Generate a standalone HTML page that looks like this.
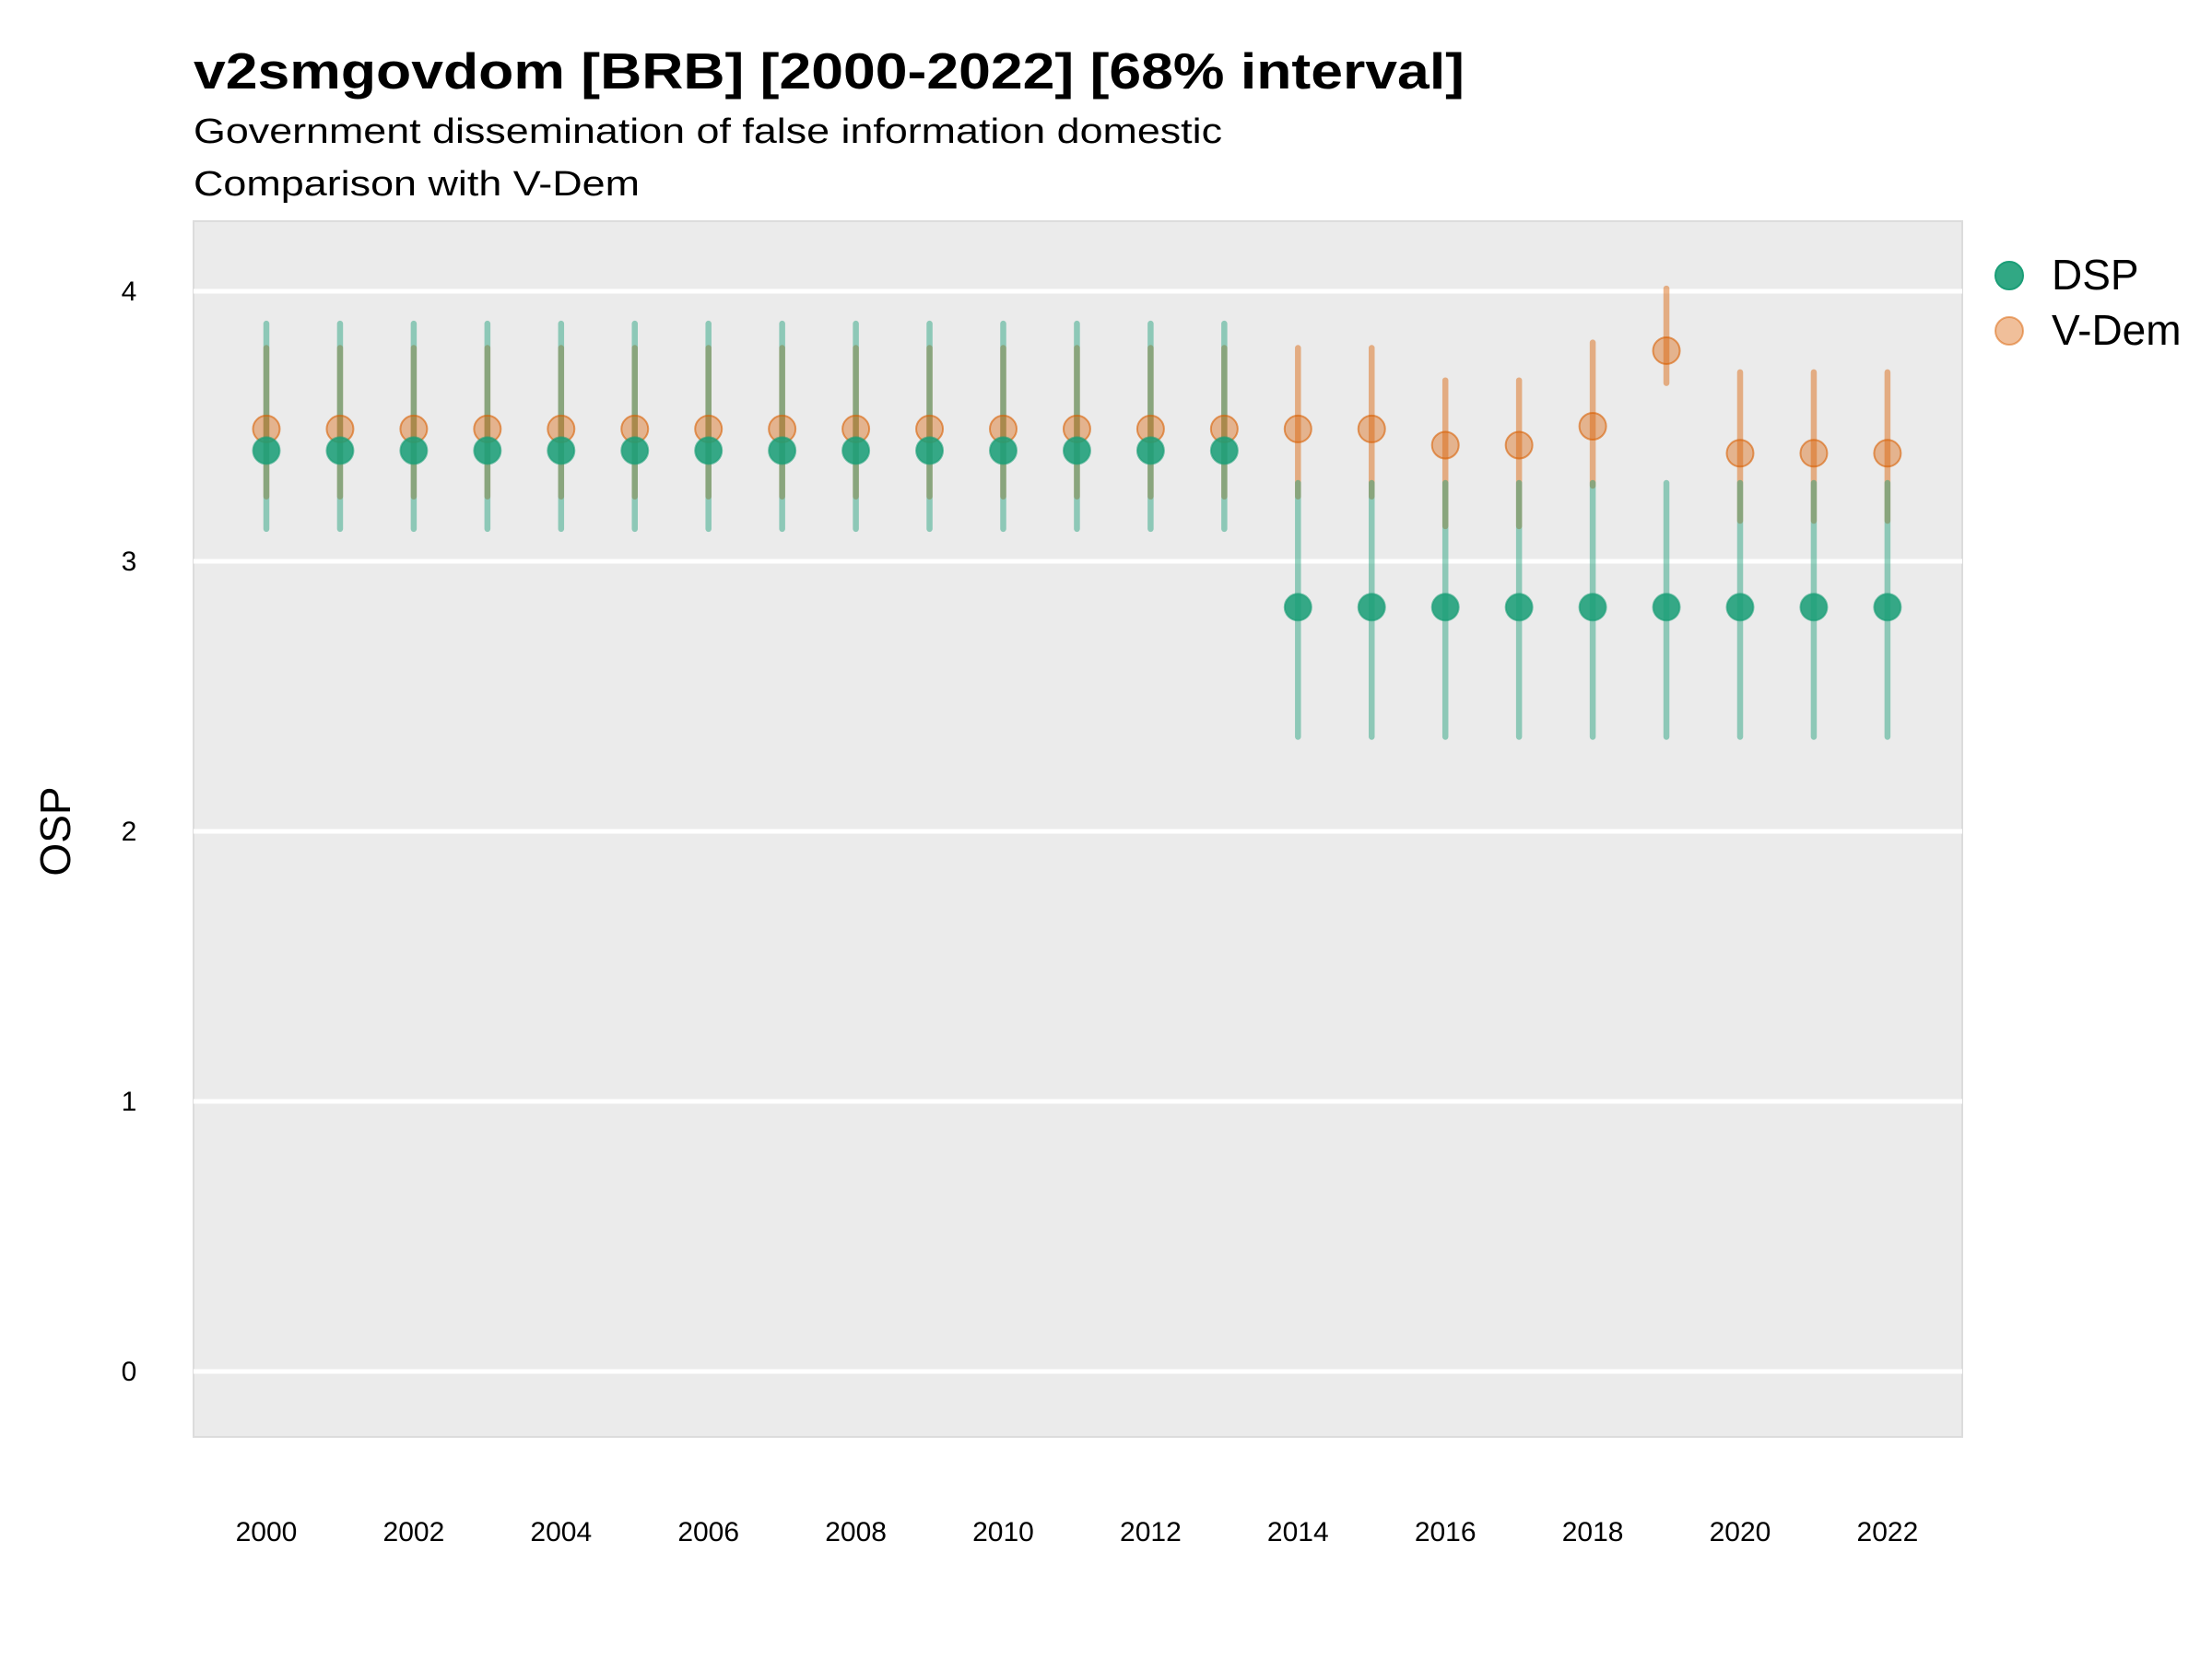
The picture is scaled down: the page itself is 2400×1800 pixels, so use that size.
<!DOCTYPE html>
<html><head><meta charset="utf-8"><style>html,body{margin:0;padding:0;background:#fff}svg{display:block}</style></head>
<body>
<svg xmlns="http://www.w3.org/2000/svg" width="2400" height="1800" viewBox="0 0 2400 1800" font-family="Liberation Sans, sans-serif">
<rect width="2400" height="1800" fill="#fff"/>
<text x="210" y="96" font-size="55" font-weight="bold" textLength="1379" lengthAdjust="spacingAndGlyphs">v2smgovdom [BRB] [2000-2022] [68% interval]</text>
<text x="210" y="155" font-size="38" textLength="1116" lengthAdjust="spacingAndGlyphs">Government dissemination of false information domestic</text>
<text x="210" y="212" font-size="38" textLength="484" lengthAdjust="spacingAndGlyphs">Comparison with V-Dem</text>
<rect x="210" y="240" width="1919" height="1319" fill="#ebebeb" stroke="#dcdcdc" stroke-width="2"/>
<g stroke="#fff" stroke-width="5">
<line x1="210" x2="2129" y1="1488" y2="1488"/>
<line x1="210" x2="2129" y1="1195" y2="1195"/>
<line x1="210" x2="2129" y1="902" y2="902"/>
<line x1="210" x2="2129" y1="609" y2="609"/>
<line x1="210" x2="2129" y1="316" y2="316"/>
</g>
<g font-size="30" text-anchor="middle" fill="#000">
<text x="140" y="1498">0</text><text x="140" y="1205">1</text><text x="140" y="912">2</text><text x="140" y="619">3</text><text x="140" y="326">4</text>
</g>
<text transform="translate(76,902) rotate(-90)" font-size="46" text-anchor="middle">OSP</text>
<g font-size="30" text-anchor="middle" id="xt"></g>
<g id="data"></g>
<circle cx="2180" cy="299" r="15" fill="#1b9e77" fill-opacity="0.9" stroke="#1b9e77" stroke-width="2"/>
<circle cx="2180" cy="359" r="15" fill="#d95f02" fill-opacity="0.4" stroke="#d95f02" stroke-opacity="0.5" stroke-width="2"/>
<text x="2226" y="314" font-size="46">DSP</text>
<text x="2226" y="374" font-size="46">V-Dem</text>
<script>
var ns="http://www.w3.org/2000/svg";
function Y(v){return 1488-v*293;}
function X(y){return 289+(y-2000)*79.95;}
var xt=document.getElementById('xt');
for(var y=2000;y<=2022;y+=2){var t=document.createElementNS(ns,'text');t.setAttribute('x',X(y));t.setAttribute('y',1672);t.textContent=y;xt.appendChild(t);}
var d=[],v=[];
for(var y=2000;y<=2013;y++){d.push([y,3.41,3.12,3.88]);v.push([y,3.49,3.24,3.79]);}
for(var y=2014;y<=2022;y++)d.push([y,2.83,2.35,3.29]);
v.push([2014,3.49,3.24,3.79],[2015,3.49,3.24,3.79],[2016,3.43,3.13,3.67],[2017,3.43,3.13,3.67],[2018,3.50,3.28,3.81],[2019,3.78,3.66,4.01],[2020,3.40,3.15,3.70],[2021,3.40,3.15,3.70],[2022,3.40,3.15,3.70]);
var g=document.getElementById('data');
function line(r,c){var l=document.createElementNS(ns,'line');l.setAttribute('x1',X(r[0]));l.setAttribute('x2',X(r[0]));l.setAttribute('y1',Y(r[2]));l.setAttribute('y2',Y(r[3]));l.setAttribute('stroke',c);l.setAttribute('stroke-opacity','0.45');l.setAttribute('stroke-width','6.5');l.setAttribute('stroke-linecap','round');g.appendChild(l);}
function pt(r,c,fo){var e=document.createElementNS(ns,'circle');e.setAttribute('cx',X(r[0]));e.setAttribute('cy',Y(r[1]));e.setAttribute('r',14.5);e.setAttribute('fill',c);e.setAttribute('fill-opacity',fo);e.setAttribute('stroke',c);e.setAttribute('stroke-opacity','0.6');e.setAttribute('stroke-width','2');g.appendChild(e);}
v.forEach(function(r){line(r,'#d95f02');});
d.forEach(function(r){line(r,'#1b9e77');});
v.forEach(function(r){pt(r,'#d95f02','0.4');});
d.forEach(function(r){pt(r,'#1b9e77','0.88');});
</script>
</svg>
</body></html>
